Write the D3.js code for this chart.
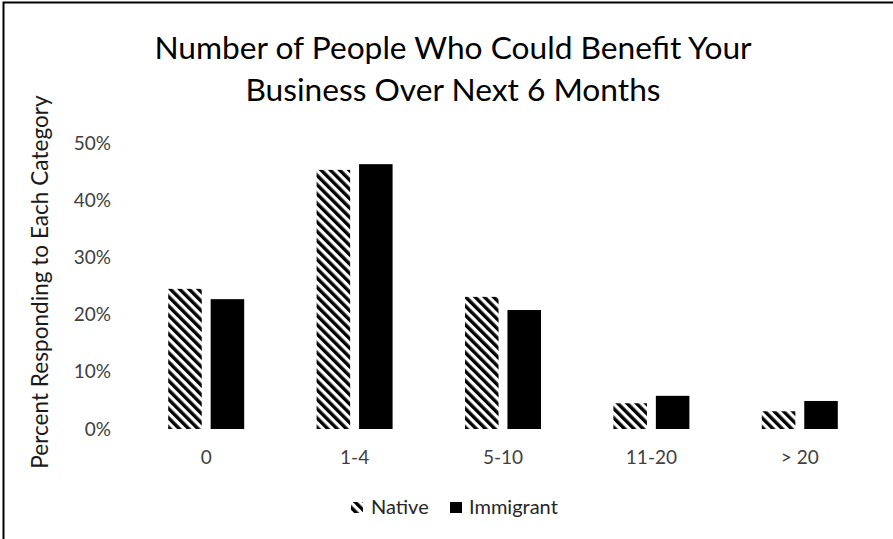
<!DOCTYPE html>
<html>
<head>
<meta charset="utf-8">
<script src="https://cdn.jsdelivr.net/npm/d3@7"></script>
<style>
  html, body { margin: 0; padding: 0; background: #fff; }
  svg { display: block; }
</style>
</head>
<body>
<script>
// ---- data ----
const categories = ["0", "1-4", "5-10", "11-20", "> 20"];
const seriesNames = ["Native", "Immigrant"];
const nativeValues = [0.245, 0.453, 0.231, 0.045, 0.031];
const immigrantValues = [0.227, 0.463, 0.208, 0.058, 0.049];
const yTicks = [0, 0.1, 0.2, 0.3, 0.4, 0.5];
const titleLines = ["Number of People Who Could Benefit Your", "Business Over Next 6 Months"];
const yTitle = "Percent Responding to Each Category";

const W = 893, H = 539;
const font = "Lato, 'Open Sans', sans-serif";

const svg = d3.select("body").append("svg").attr("width", W).attr("height", H);

// pattern for Native
const defs = svg.append("defs");
const pat = defs.append("pattern")
  .attr("id", "hatch")
  .attr("patternUnits", "userSpaceOnUse")
  .attr("width", 6.6).attr("height", 10)
  .attr("patternTransform", "rotate(-45)");
pat.append("rect").attr("width", 6.6).attr("height", 10).attr("fill", "#fff");
pat.append("rect").attr("width", 3.4).attr("height", 10).attr("fill", "#000");

// border (cropped at right/bottom)
svg.append("rect")
  .attr("x", 3.5).attr("y", 2.5).attr("width", 1200).attr("height", 1200)
  .attr("fill", "none").attr("stroke", "#000").attr("stroke-width", 2);

// scales
const x0 = d3.scaleBand().domain(categories).range([132, 874])
  .paddingInner(0.488).paddingOuter(0.244);
const x1 = d3.scaleBand().domain(seriesNames).range([0, x0.bandwidth()]).paddingInner(0.21);
const y = d3.scaleLinear().domain([0, 0.5]).range([429, 143]);

const rows = categories.map((c, i) => ({ cat: c, values: [
  { s: "Native", v: nativeValues[i] },
  { s: "Immigrant", v: immigrantValues[i] }
]}));

const fills = { Native: "url(#hatch)", Immigrant: "#000" };

svg.append("g").selectAll("g").data(rows).join("g")
  .attr("transform", d => `translate(${x0(d.cat)},0)`)
  .selectAll("rect").data(d => d.values).join("rect")
  .attr("x", d => x1(d.s))
  .attr("width", x1.bandwidth())
  .attr("y", d => y(d.v))
  .attr("height", d => y(0) - y(d.v))
  .attr("fill", d => fills[d.s]);

// y axis
const yAxis = svg.append("g").attr("transform", "translate(132,0)")
  .call(d3.axisLeft(y).tickValues(yTicks).tickFormat(d3.format(".0%")).tickSize(0).tickPadding(21));
yAxis.select(".domain").remove();
yAxis.selectAll("text").attr("font-family", font).attr("font-size", 19).attr("fill", "#404040");

// x axis
const xAxis = svg.append("g").attr("transform", "translate(0,429)")
  .call(d3.axisBottom(x0).tickSize(0).tickPadding(22));
xAxis.select(".domain").remove();
xAxis.selectAll("text").attr("font-family", font).attr("font-size", 19).attr("fill", "#404040");

// title
svg.append("g").selectAll("text").data(titleLines).join("text")
  .attr("x", 453).attr("y", (d, i) => 59 + i * 42)
  .attr("text-anchor", "middle")
  .attr("font-family", font).attr("font-size", 31.7).attr("fill", "#000")
  .text(d => d);

// y title
svg.append("text")
  .attr("transform", "translate(48,282) rotate(-90)")
  .attr("text-anchor", "middle")
  .attr("font-family", font).attr("font-size", 22.6).attr("fill", "#1a1a1a")
  .text(yTitle);

// legend
const legendItems = [
  { s: "Native", bx: 351, tx: 371 },
  { s: "Immigrant", bx: 450, tx: 469 }
];
const lg = svg.append("g").selectAll("g").data(legendItems).join("g");
lg.append("rect")
  .attr("x", d => d.bx).attr("y", 502).attr("width", 12).attr("height", 11)
  .attr("fill", d => fills[d.s]);
lg.append("text")
  .attr("x", d => d.tx).attr("y", 513.5)
  .attr("font-family", font).attr("font-size", 20).attr("fill", "#262626")
  .text(d => d.s);
</script>
</body>
</html>
